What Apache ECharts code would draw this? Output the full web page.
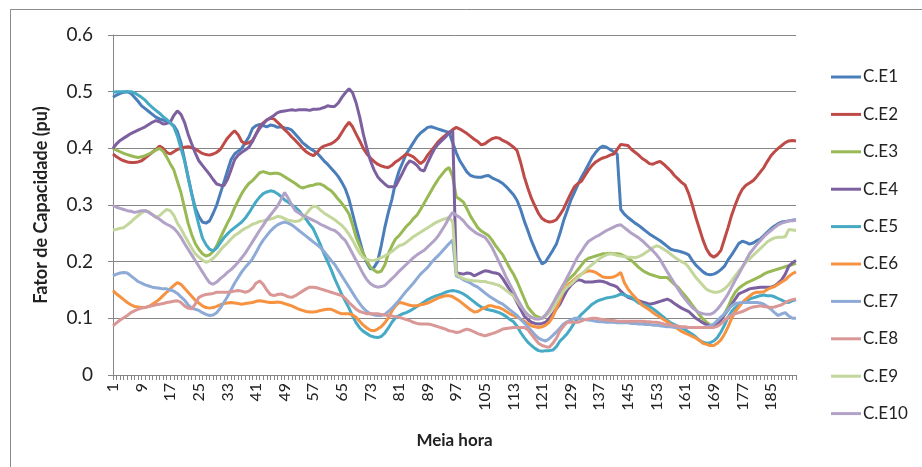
<!DOCTYPE html>
<html>
<head>
<meta charset="utf-8">
<script src="https://cdn.jsdelivr.net/npm/echarts@6/dist/echarts.min.js"></script>
<style>html,body{margin:0;padding:0;background:#fff;}#c{width:922px;height:467px;}</style>
</head>
<body>
<div id="c"></div>
<script>
const categories = Array.from({length: 192}, (_, k) => String(k + 1));
const seriesNames = ['C.E1','C.E2','C.E3','C.E4','C.E5','C.E6','C.E7','C.E8','C.E9','C.E10'];
const yTicks = [0, 0.1, 0.2, 0.3, 0.4, 0.5, 0.6];

const ce1 = [
0.490,0.494,0.497,0.499,0.500,0.497,0.490,0.483,0.475,0.470,0.465,0.460,0.455,0.452,0.450,0.448,
0.445,0.440,0.430,0.410,0.380,0.350,0.320,0.295,0.280,0.270,0.268,0.272,0.285,0.300,0.320,0.340,
0.360,0.380,0.390,0.395,0.400,0.410,0.420,0.435,0.440,0.442,0.440,0.438,0.441,0.440,0.437,0.438,
0.436,0.435,0.432,0.425,0.418,0.410,0.405,0.400,0.396,0.392,0.385,0.378,0.372,0.365,0.358,0.350,
0.340,0.328,0.310,0.285,0.260,0.237,0.214,0.198,0.187,0.190,0.200,0.228,0.260,0.287,0.310,0.340,
0.360,0.375,0.390,0.400,0.410,0.420,0.427,0.432,0.437,0.438,0.436,0.434,0.432,0.430,0.428,0.410,
0.392,0.378,0.368,0.358,0.352,0.350,0.349,0.349,0.351,0.352,0.348,0.345,0.342,0.338,0.332,0.325,
0.318,0.308,0.292,0.272,0.255,0.237,0.222,0.208,0.196,0.200,0.210,0.220,0.231,0.250,0.272,0.290,
0.308,0.322,0.336,0.349,0.360,0.372,0.384,0.393,0.400,0.404,0.402,0.398,0.394,0.390,0.292,0.284,
0.278,0.273,0.268,0.264,0.259,0.254,0.249,0.245,0.241,0.237,0.232,0.227,0.222,0.220,0.219,0.217,
0.215,0.212,0.202,0.194,0.188,0.182,0.178,0.177,0.178,0.181,0.186,0.192,0.203,0.212,0.222,0.232,
0.236,0.234,0.231,0.233,0.237,0.240,0.246,0.252,0.258,0.263,0.267,0.270,0.271,0.272,0.273,0.274];

const ce2 = [
0.390,0.385,0.381,0.378,0.376,0.375,0.375,0.376,0.378,0.383,0.388,0.393,0.398,0.404,0.400,0.393,
0.390,0.394,0.398,0.400,0.402,0.403,0.401,0.399,0.395,0.391,0.389,0.388,0.390,0.393,0.398,0.408,
0.418,0.425,0.431,0.424,0.412,0.408,0.410,0.414,0.425,0.438,0.445,0.450,0.453,0.452,0.446,0.440,
0.433,0.427,0.420,0.414,0.407,0.400,0.394,0.390,0.387,0.392,0.400,0.404,0.406,0.408,0.412,0.418,
0.428,0.438,0.446,0.438,0.425,0.413,0.400,0.390,0.383,0.377,0.372,0.369,0.367,0.366,0.370,0.376,
0.380,0.385,0.390,0.388,0.385,0.379,0.373,0.378,0.388,0.396,0.404,0.412,0.418,0.423,0.428,0.433,
0.437,0.434,0.430,0.426,0.421,0.416,0.412,0.406,0.408,0.413,0.417,0.419,0.418,0.414,0.411,0.407,
0.402,0.396,0.375,0.350,0.330,0.312,0.298,0.285,0.276,0.272,0.270,0.271,0.274,0.283,0.293,0.307,
0.320,0.332,0.338,0.342,0.352,0.362,0.370,0.376,0.380,0.383,0.385,0.388,0.390,0.398,0.407,0.406,
0.405,0.398,0.393,0.388,0.382,0.378,0.373,0.372,0.375,0.377,0.372,0.366,0.360,0.352,0.346,0.340,
0.335,0.320,0.300,0.278,0.258,0.238,0.222,0.212,0.208,0.212,0.220,0.240,0.260,0.282,0.300,0.316,
0.328,0.335,0.339,0.343,0.350,0.358,0.366,0.377,0.387,0.394,0.400,0.405,0.410,0.413,0.414,0.413];

const ce3 = [
0.400,0.397,0.394,0.391,0.389,0.387,0.385,0.384,0.385,0.387,0.390,0.393,0.397,0.400,0.395,0.385,
0.373,0.362,0.342,0.322,0.295,0.268,0.248,0.232,0.222,0.214,0.210,0.212,0.218,0.228,0.242,0.255,
0.268,0.280,0.295,0.308,0.320,0.330,0.338,0.343,0.350,0.357,0.359,0.357,0.355,0.356,0.356,0.354,
0.350,0.346,0.342,0.338,0.333,0.330,0.332,0.334,0.335,0.337,0.337,0.334,0.329,0.325,0.318,0.310,
0.303,0.294,0.284,0.265,0.243,0.228,0.214,0.201,0.190,0.185,0.181,0.183,0.194,0.214,0.228,0.240,
0.246,0.254,0.262,0.268,0.276,0.282,0.292,0.303,0.314,0.325,0.336,0.346,0.354,0.362,0.366,0.350,
0.314,0.310,0.305,0.293,0.280,0.270,0.260,0.254,0.250,0.246,0.238,0.228,0.220,0.212,0.200,0.188,
0.178,0.165,0.150,0.135,0.120,0.112,0.105,0.102,0.100,0.106,0.114,0.124,0.136,0.147,0.160,0.166,
0.172,0.178,0.186,0.194,0.202,0.206,0.208,0.210,0.212,0.214,0.214,0.215,0.214,0.214,0.213,0.210,
0.206,0.202,0.196,0.190,0.185,0.181,0.178,0.176,0.174,0.172,0.172,0.172,0.166,0.160,0.155,0.147,
0.140,0.132,0.123,0.115,0.106,0.099,0.093,0.088,0.087,0.090,0.096,0.108,0.120,0.135,0.146,0.153,
0.158,0.162,0.165,0.168,0.171,0.174,0.178,0.181,0.183,0.185,0.187,0.189,0.191,0.193,0.195,0.197];

const ce4 = [
0.400,0.408,0.414,0.418,0.422,0.426,0.429,0.432,0.435,0.438,0.442,0.446,0.449,0.447,0.443,0.444,
0.446,0.458,0.466,0.460,0.446,0.425,0.408,0.392,0.378,0.370,0.362,0.354,0.345,0.337,0.335,0.334,
0.345,0.362,0.380,0.388,0.393,0.397,0.402,0.412,0.425,0.435,0.443,0.450,0.454,0.458,0.463,0.465,
0.466,0.467,0.468,0.467,0.468,0.468,0.468,0.467,0.469,0.469,0.470,0.472,0.475,0.474,0.474,0.480,
0.490,0.498,0.505,0.498,0.480,0.455,0.425,0.400,0.378,0.362,0.350,0.343,0.337,0.332,0.332,0.333,
0.345,0.357,0.370,0.378,0.375,0.370,0.362,0.360,0.375,0.388,0.400,0.408,0.414,0.420,0.428,0.431,
0.181,0.179,0.178,0.180,0.179,0.175,0.178,0.181,0.184,0.183,0.181,0.180,0.178,0.170,0.160,0.150,
0.140,0.128,0.116,0.104,0.098,0.093,0.091,0.090,0.091,0.093,0.100,0.108,0.117,0.125,0.138,0.150,
0.158,0.164,0.168,0.167,0.164,0.164,0.164,0.165,0.166,0.165,0.163,0.160,0.158,0.155,0.148,0.142,
0.137,0.135,0.133,0.131,0.129,0.127,0.125,0.126,0.128,0.130,0.132,0.134,0.131,0.126,0.122,0.118,
0.115,0.112,0.106,0.100,0.096,0.092,0.089,0.087,0.087,0.090,0.097,0.106,0.115,0.124,0.134,0.143,
0.146,0.149,0.152,0.153,0.154,0.155,0.155,0.155,0.155,0.157,0.162,0.168,0.178,0.192,0.198,0.202];

const ce5 = [
0.499,0.500,0.500,0.500,0.500,0.500,0.498,0.494,0.490,0.485,0.478,0.472,0.467,0.462,0.456,0.451,
0.445,0.438,0.422,0.400,0.378,0.348,0.320,0.290,0.265,0.242,0.230,0.222,0.219,0.224,0.233,0.242,
0.249,0.255,0.260,0.265,0.270,0.277,0.286,0.296,0.306,0.314,0.320,0.323,0.325,0.324,0.320,0.315,
0.309,0.305,0.300,0.296,0.290,0.282,0.275,0.266,0.258,0.244,0.230,0.214,0.200,0.186,0.170,0.156,
0.142,0.130,0.118,0.104,0.092,0.083,0.077,0.073,0.069,0.067,0.066,0.068,0.074,0.083,0.093,0.101,
0.105,0.108,0.110,0.113,0.117,0.121,0.125,0.129,0.133,0.136,0.139,0.141,0.143,0.146,0.148,0.149,
0.148,0.146,0.143,0.139,0.134,0.129,0.124,0.120,0.117,0.115,0.114,0.112,0.110,0.107,0.103,0.098,
0.094,0.086,0.075,0.066,0.058,0.052,0.047,0.043,0.042,0.043,0.043,0.044,0.050,0.060,0.066,0.073,
0.082,0.092,0.100,0.107,0.113,0.119,0.125,0.129,0.132,0.134,0.136,0.137,0.138,0.140,0.143,0.141,
0.139,0.137,0.132,0.127,0.125,0.123,0.121,0.117,0.112,0.107,0.102,0.096,0.092,0.089,0.086,0.083,
0.080,0.076,0.072,0.067,0.061,0.058,0.056,0.057,0.060,0.066,0.076,0.088,0.102,0.112,0.119,0.124,
0.128,0.131,0.134,0.136,0.138,0.140,0.141,0.140,0.140,0.138,0.135,0.132,0.129,0.128,0.131,0.133];

const ce6 = [
0.149,0.143,0.138,0.133,0.128,0.124,0.121,0.120,0.119,0.119,0.121,0.125,0.129,0.134,0.140,0.146,
0.152,0.158,0.163,0.160,0.153,0.146,0.139,0.132,0.127,0.122,0.119,0.118,0.119,0.121,0.124,0.126,
0.127,0.128,0.127,0.126,0.125,0.126,0.127,0.128,0.130,0.131,0.130,0.129,0.128,0.128,0.129,0.128,
0.126,0.124,0.122,0.119,0.116,0.114,0.112,0.111,0.111,0.112,0.114,0.115,0.116,0.116,0.113,0.110,
0.108,0.108,0.108,0.106,0.102,0.095,0.088,0.083,0.079,0.078,0.081,0.085,0.092,0.101,0.113,0.122,
0.128,0.127,0.125,0.123,0.122,0.122,0.124,0.125,0.127,0.130,0.133,0.136,0.138,0.140,0.140,0.138,
0.134,0.130,0.125,0.120,0.115,0.111,0.112,0.116,0.119,0.122,0.122,0.120,0.119,0.116,0.112,0.108,
0.105,0.102,0.099,0.095,0.091,0.087,0.085,0.084,0.085,0.088,0.093,0.103,0.117,0.132,0.149,0.158,
0.163,0.168,0.174,0.178,0.182,0.184,0.183,0.181,0.177,0.173,0.172,0.172,0.173,0.176,0.181,0.163,
0.152,0.144,0.137,0.130,0.123,0.119,0.115,0.110,0.106,0.102,0.098,0.094,0.089,0.085,0.081,0.077,
0.074,0.071,0.068,0.065,0.061,0.056,0.054,0.052,0.052,0.056,0.062,0.072,0.085,0.100,0.112,0.120,
0.128,0.134,0.139,0.144,0.146,0.146,0.147,0.151,0.154,0.156,0.160,0.164,0.168,0.174,0.179,0.182];

const ce7 = [
0.175,0.178,0.180,0.181,0.180,0.175,0.170,0.165,0.162,0.159,0.157,0.155,0.154,0.153,0.152,0.152,
0.150,0.148,0.144,0.138,0.132,0.124,0.118,0.116,0.114,0.110,0.107,0.105,0.106,0.110,0.118,0.128,
0.138,0.150,0.162,0.172,0.182,0.190,0.197,0.205,0.216,0.228,0.238,0.246,0.254,0.260,0.265,0.268,
0.270,0.268,0.265,0.260,0.255,0.250,0.245,0.240,0.235,0.230,0.225,0.218,0.210,0.202,0.195,0.185,
0.175,0.165,0.155,0.145,0.135,0.126,0.118,0.112,0.108,0.106,0.105,0.105,0.107,0.112,0.118,0.125,
0.132,0.140,0.148,0.155,0.162,0.170,0.178,0.184,0.190,0.198,0.205,0.211,0.218,0.225,0.232,0.238,
0.175,0.172,0.168,0.165,0.162,0.158,0.155,0.150,0.145,0.140,0.136,0.132,0.128,0.125,0.120,0.115,
0.110,0.105,0.098,0.092,0.085,0.078,0.071,0.065,0.062,0.060,0.064,0.070,0.076,0.083,0.090,0.094,
0.097,0.100,0.100,0.099,0.098,0.097,0.096,0.095,0.094,0.094,0.093,0.093,0.093,0.092,0.092,0.092,
0.092,0.091,0.091,0.090,0.090,0.089,0.089,0.088,0.088,0.087,0.086,0.085,0.085,0.084,0.084,0.084,
0.084,0.084,0.084,0.084,0.084,0.084,0.085,0.087,0.090,0.096,0.102,0.108,0.115,0.122,0.126,0.127,
0.128,0.128,0.128,0.128,0.128,0.127,0.125,0.121,0.116,0.110,0.105,0.108,0.110,0.104,0.100,0.100];

const ce8 = [
0.087,0.092,0.097,0.101,0.105,0.110,0.113,0.116,0.118,0.119,0.121,0.122,0.124,0.125,0.126,0.128,
0.129,0.130,0.131,0.128,0.122,0.118,0.117,0.125,0.137,0.140,0.142,0.143,0.144,0.146,0.146,0.146,
0.146,0.147,0.148,0.149,0.148,0.146,0.148,0.153,0.162,0.166,0.160,0.150,0.142,0.140,0.142,0.143,
0.141,0.138,0.137,0.140,0.144,0.148,0.152,0.155,0.155,0.154,0.152,0.150,0.148,0.146,0.144,0.142,
0.140,0.135,0.128,0.122,0.116,0.112,0.110,0.108,0.108,0.108,0.108,0.107,0.106,0.105,0.104,0.103,
0.102,0.100,0.098,0.096,0.093,0.091,0.090,0.090,0.090,0.089,0.087,0.085,0.083,0.081,0.078,0.077,
0.075,0.076,0.079,0.081,0.079,0.076,0.073,0.071,0.069,0.071,0.073,0.075,0.078,0.081,0.082,0.083,
0.084,0.084,0.084,0.084,0.080,0.072,0.064,0.056,0.052,0.050,0.049,0.056,0.065,0.078,0.086,0.093,
0.093,0.093,0.093,0.095,0.098,0.099,0.100,0.100,0.099,0.098,0.097,0.096,0.096,0.095,0.095,0.095,
0.095,0.095,0.095,0.095,0.095,0.094,0.094,0.093,0.093,0.092,0.090,0.089,0.088,0.087,0.086,0.085,
0.085,0.084,0.084,0.084,0.084,0.084,0.084,0.084,0.084,0.086,0.090,0.096,0.102,0.106,0.108,0.110,
0.112,0.115,0.118,0.120,0.121,0.122,0.121,0.120,0.119,0.120,0.122,0.124,0.128,0.131,0.133,0.134];

const ce9 = [
0.256,0.257,0.259,0.260,0.265,0.270,0.276,0.281,0.286,0.290,0.288,0.283,0.278,0.281,0.287,0.292,
0.290,0.282,0.268,0.258,0.246,0.235,0.224,0.214,0.208,0.203,0.199,0.201,0.206,0.212,0.220,0.227,
0.233,0.240,0.246,0.250,0.255,0.259,0.262,0.266,0.268,0.271,0.272,0.274,0.275,0.277,0.280,0.279,
0.276,0.273,0.272,0.271,0.272,0.276,0.284,0.292,0.298,0.297,0.291,0.286,0.282,0.278,0.274,0.269,
0.264,0.257,0.248,0.238,0.226,0.215,0.207,0.204,0.202,0.202,0.204,0.207,0.210,0.214,0.218,0.223,
0.228,0.230,0.234,0.239,0.244,0.248,0.252,0.256,0.260,0.264,0.268,0.271,0.274,0.276,0.278,0.270,
0.178,0.173,0.170,0.168,0.167,0.166,0.166,0.165,0.165,0.163,0.162,0.160,0.158,0.154,0.149,0.144,
0.140,0.131,0.122,0.114,0.107,0.102,0.100,0.099,0.100,0.104,0.110,0.118,0.128,0.138,0.148,0.155,
0.160,0.166,0.172,0.178,0.184,0.190,0.195,0.200,0.205,0.209,0.212,0.214,0.213,0.211,0.210,0.209,
0.208,0.208,0.207,0.209,0.212,0.216,0.220,0.225,0.228,0.226,0.222,0.218,0.213,0.208,0.204,0.200,
0.197,0.190,0.181,0.172,0.165,0.158,0.151,0.148,0.146,0.146,0.148,0.152,0.158,0.166,0.175,0.183,
0.191,0.199,0.205,0.211,0.217,0.223,0.229,0.235,0.239,0.242,0.243,0.243,0.244,0.257,0.256,0.255];

const ce10 = [
0.299,0.296,0.294,0.292,0.290,0.289,0.287,0.288,0.290,0.290,0.287,0.283,0.279,0.275,0.270,0.266,
0.263,0.259,0.252,0.243,0.232,0.222,0.212,0.202,0.192,0.182,0.172,0.163,0.160,0.164,0.170,0.175,
0.181,0.186,0.192,0.199,0.207,0.215,0.225,0.235,0.245,0.255,0.264,0.274,0.282,0.290,0.298,0.310,
0.322,0.312,0.300,0.290,0.286,0.282,0.279,0.276,0.273,0.270,0.266,0.263,0.260,0.257,0.255,0.250,
0.243,0.237,0.226,0.214,0.202,0.190,0.178,0.168,0.161,0.157,0.155,0.156,0.158,0.164,0.170,0.176,
0.183,0.189,0.195,0.201,0.207,0.212,0.216,0.220,0.226,0.232,0.238,0.246,0.256,0.266,0.278,0.287,
0.282,0.278,0.272,0.264,0.258,0.253,0.249,0.246,0.243,0.235,0.225,0.212,0.199,0.186,0.172,0.160,
0.148,0.135,0.124,0.113,0.106,0.102,0.099,0.099,0.100,0.106,0.115,0.126,0.138,0.149,0.160,0.172,
0.184,0.197,0.209,0.218,0.228,0.236,0.240,0.244,0.247,0.251,0.255,0.258,0.261,0.264,0.265,0.260,
0.255,0.250,0.246,0.242,0.237,0.231,0.225,0.219,0.212,0.204,0.193,0.182,0.172,0.162,0.152,0.142,
0.134,0.126,0.119,0.114,0.110,0.108,0.107,0.107,0.110,0.116,0.124,0.133,0.143,0.155,0.167,0.178,
0.190,0.202,0.214,0.222,0.230,0.237,0.244,0.250,0.255,0.260,0.265,0.268,0.270,0.272,0.272,0.273];

const seriesData = [ce1, ce2, ce3, ce4, ce5, ce6, ce7, ce8, ce9, ce10];
const colors = ['#4A7EBB','#BE4B48','#98B954','#7D60A0','#46AAC5','#F69240','#8EAAD6','#D99795','#C3D69B','#B3A2C7'];

const FONT = 'Lato, "Open Sans", sans-serif';
const chart = echarts.init(document.getElementById('c'), null, {renderer: 'canvas'});
chart.setOption({
  animation: false,
  backgroundColor: '#ffffff',
  color: colors,
  graphic: [{
    type: 'rect', left: 8, top: 7, silent: true,
    shape: {x: 0, y: 0, width: 1000, height: 1000},
    style: {fill: 'none', stroke: '#8c8c8c', lineWidth: 1}
  }],
  grid: {left: 113, right: 126, top: 35, bottom: 92, containLabel: false},
  legend: {
    orient: 'vertical', left: 826, top: 63,
    itemWidth: 30, itemHeight: 3, itemGap: 19.4, icon: 'rect',
    textStyle: {fontFamily: FONT, fontSize: 17, color: '#222', lineHeight: 18, padding: [0,0,0,-3]},
    data: seriesNames
  },
  xAxis: {
    type: 'category', data: categories, boundaryGap: false,
    name: 'Meia hora', nameLocation: 'middle', nameGap: 57,
    nameTextStyle: {fontFamily: FONT, fontSize: 17, fontWeight: 'bold', color: '#222'},
    axisLine: {lineStyle: {color: '#868686', width: 1}},
    axisTick: {interval: 0, length: 5, lineStyle: {color: '#868686'}},
    axisLabel: {interval: 7, rotate: 90, fontFamily: FONT, fontSize: 16, color: '#222', margin: 8},
    splitLine: {show: false}
  },
  yAxis: {
    type: 'value', min: yTicks[0], max: yTicks[yTicks.length - 1], interval: 0.1,
    name: 'Fator de Capacidade (pu)', nameLocation: 'middle', nameGap: 63,
    nameTextStyle: {fontFamily: FONT, fontSize: 18, fontWeight: 'bold', color: '#222'},
    axisLine: {show: true, lineStyle: {color: '#868686', width: 1}},
    axisTick: {show: true, length: 5, lineStyle: {color: '#868686'}},
    axisLabel: {fontFamily: FONT, fontSize: 19, color: '#222', margin: 20,
      formatter: v => (Math.round(v * 10) / 10).toString()},
    splitLine: {lineStyle: {color: '#868686', width: 1}}
  },
  series: seriesNames.map((n, k) => ({
    name: n, type: 'line', data: seriesData[k], showSymbol: false, symbol: 'none',
    lineStyle: {width: 3, color: colors[k]}, itemStyle: {color: colors[k]}
  }))
});
</script>
</body>
</html>
